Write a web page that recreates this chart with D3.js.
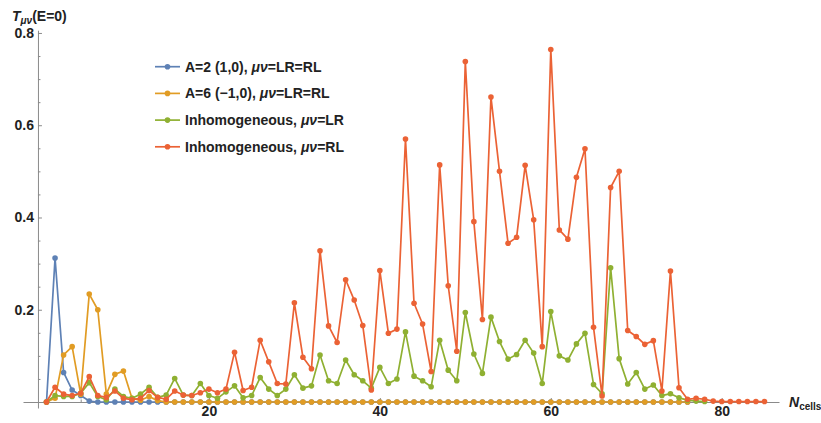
<!DOCTYPE html>
<html>
<head>
<meta charset="utf-8">
<script src="https://cdn.jsdelivr.net/npm/d3@7"></script>
<style>
  body { margin: 0; background: #fff; }
  svg { font-family: "Liberation Sans", Arial, sans-serif; }
</style>
</head>
<body>
<svg id="chart"></svg>
<script>
// values per series, index 0 is N = 1
const blueVals = [
  0, 0.312, 0.064, 0.026, 0.014, 0.002, 0, 0, 0, 0,
  0, 0, 0, 0, 0, 0, 0, 0, 0, 0,
  0, 0, 0, 0, 0, 0, 0, 0, 0, 0,
  0, 0, 0, 0, 0, 0, 0, 0, 0, 0,
  0, 0, 0, 0, 0, 0, 0, 0, 0, 0,
  0, 0, 0, 0, 0, 0, 0, 0, 0, 0,
  0, 0, 0, 0, 0, 0, 0, 0, 0, 0,
  0, 0, 0, 0, 0, 0,
];
const orangeVals = [
  0, 0.008, 0.102, 0.12, 0.017, 0.234, 0.2, 0.017, 0.06, 0.067,
  0.008, 0.004, 0.012, 0.003, 0, 0, 0, 0, 0, 0,
  0, 0, 0, 0, 0, 0, 0, 0, 0, 0,
  0, 0, 0, 0, 0, 0, 0, 0, 0, 0,
  0, 0, 0, 0, 0, 0, 0, 0, 0, 0,
  0, 0, 0, 0, 0, 0, 0, 0, 0, 0,
  0, 0, 0, 0, 0, 0, 0, 0, 0, 0,
  0, 0, 0, 0, 0, 0,
];
const greenVals = [
  0, 0.014, 0.012, 0.012, 0.019, 0.042, 0.012, 0.005, 0.028, 0.012,
  0.008, 0.017, 0.032, 0.01, 0.015, 0.051, 0.015, 0.014, 0.04, 0.014,
  0.008, 0.022, 0.035, 0.009, 0.014, 0.053, 0.028, 0.014, 0.028, 0.059,
  0.03, 0.035, 0.102, 0.046, 0.04, 0.091, 0.059, 0.046, 0.03, 0.075,
  0.04, 0.05, 0.152, 0.056, 0.046, 0.033, 0.134, 0.069, 0.046, 0.194,
  0.104, 0.062, 0.184, 0.131, 0.093, 0.103, 0.134, 0.106, 0.04, 0.196,
  0.1, 0.091, 0.126, 0.149, 0.038, 0.018, 0.291, 0.094, 0.039, 0.064,
  0.028, 0.037, 0.014, 0.018, 0.009, 0.004, 0.002, 0.001,
];
const redVals = [
  0, 0.032, 0.017, 0.014, 0.019, 0.055, 0.014, 0.01, 0.024, 0.008,
  0.005, 0.008, 0.025, 0.01, 0.006, 0.024, 0.015, 0.014, 0.02, 0.028,
  0.02, 0.028, 0.108, 0.025, 0.032, 0.134, 0.087, 0.04, 0.039, 0.215,
  0.097, 0.072, 0.328, 0.165, 0.129, 0.265, 0.221, 0.166, 0.026, 0.285,
  0.149, 0.158, 0.57, 0.214, 0.169, 0.066, 0.514, 0.252, 0.11, 0.738,
  0.391, 0.179, 0.661, 0.5, 0.344, 0.357, 0.513, 0.395, 0.12, 0.764,
  0.373, 0.353, 0.487, 0.549, 0.162, 0.013, 0.465, 0.5, 0.155, 0.142,
  0.125, 0.133, 0.024, 0.284, 0.031, 0.006, 0.008, 0.006, 0.002, 0.001,
  0.001, 0.001, 0.001, 0.001, 0.001,
];

// legend labels: [plain, italic, plain]
const seriesLabels = [
  ["A=2 (1,0), ", "μν", "=LR=RL"],
  ["A=6 (\u22121,0), ", "μν", "=LR=RL"],
  ["Inhomogeneous, ", "μν", "=LR"],
  ["Inhomogeneous, ", "μν", "=RL"],
];
const seriesColors = ["#5E81B5", "#E19C24", "#8FB032", "#EB6235"];

const xMajorTicks = [20, 40, 60, 80];
const xMinorTicks = [5, 10, 15, 25, 30, 35, 45, 50, 55, 65, 70, 75, 85];
const yMajorTicks = [0.2, 0.4, 0.6, 0.8];
const yMinorTicks = [0.05, 0.1, 0.15, 0.25, 0.3, 0.35, 0.45, 0.5, 0.55, 0.65, 0.7, 0.75];

class ListPlot {
  constructor(svg, series, width = 821, height = 423) {
    this.svg_id = svg;
    this.series = series;
    this.width = width;
    this.height = height;
  }

  initialize() {
    this.svg = d3.select(this.svg_id)
      .attr("width", this.width)
      .attr("height", this.height);

    // axes cross at the origin, a bit past the data on both ends
    const x = d3.scaleLinear().domain([-1.75, 86.7]).range([23, 779]);
    const y = d3.scaleLinear().domain([-0.013, 0.806]).range([408, 30.2]);
    const axisColor = "#8a8a8a";

    const xAxis = this.svg.append("g").attr("transform", `translate(0, ${y(0)})`);
    xAxis.call(d3.axisBottom(x).tickValues(xMajorTicks).tickSizeInner(-4).tickSizeOuter(0).tickPadding(4));
    const xMinor = this.svg.append("g").attr("transform", `translate(0, ${y(0)})`);
    xMinor.call(d3.axisBottom(x).tickValues(xMinorTicks).tickSizeInner(-2.5).tickSizeOuter(0).tickFormat(""));
    xMinor.select(".domain").remove();

    const yAxis = this.svg.append("g").attr("transform", `translate(${x(0)}, 0)`);
    yAxis.call(d3.axisLeft(y).tickValues(yMajorTicks).tickSizeInner(-4).tickSizeOuter(0).tickPadding(4).tickFormat(d3.format(".1f")));
    const yMinor = this.svg.append("g").attr("transform", `translate(${x(0)}, 0)`);
    yMinor.call(d3.axisLeft(y).tickValues(yMinorTicks).tickSizeInner(-2.5).tickSizeOuter(0).tickFormat(""));
    yMinor.select(".domain").remove();

    this.svg.selectAll(".domain, .tick line").attr("stroke", axisColor);
    this.svg.selectAll(".tick text")
      .attr("fill", "#222")
      .style("font-size", "14px")
      .style("font-weight", "bold");

    // data
    const line = d3.line()
      .x((d) => x(d.n))
      .y((d) => y(d.v));

    const groups = this.svg.append("g")
      .selectAll("g")
      .data(this.series)
      .join("g");

    groups.append("path")
      .attr("d", (s) => line(s.points))
      .attr("fill", "none")
      .attr("stroke", (s) => s.color)
      .attr("stroke-width", 1.7)
      .attr("stroke-linejoin", "round");

    groups.selectAll("circle")
      .data((s) => s.points.map((p) => ({ ...p, color: s.color })))
      .join("circle")
      .attr("cx", (d) => x(d.n))
      .attr("cy", (d) => y(d.v))
      .attr("r", 2.8)
      .attr("fill", (d) => d.color);

    // axis labels
    const yLabel = this.svg.append("text")
      .attr("x", 12)
      .attr("y", 21)
      .attr("fill", "#222")
      .style("font-size", "14px")
      .style("font-weight", "bold");
    yLabel.append("tspan").style("font-style", "italic").text("T");
    yLabel.append("tspan").style("font-style", "italic").style("font-size", "10px").attr("dy", 3).text("μν");
    yLabel.append("tspan").attr("dy", -3).text("(E=0)");

    const xLabel = this.svg.append("text")
      .attr("x", 789)
      .attr("y", 407)
      .attr("fill", "#222")
      .style("font-size", "14px")
      .style("font-weight", "bold");
    xLabel.append("tspan").style("font-style", "italic").text("N");
    xLabel.append("tspan").style("font-size", "10px").attr("dy", 3).text("cells");

    // legend
    const legend = this.svg.append("g")
      .selectAll("g")
      .data(this.series)
      .join("g")
      .attr("transform", (s, i) => `translate(155, ${66.7 + i * 26.7})`);
    legend.append("line")
      .attr("x1", 0).attr("x2", 25)
      .attr("stroke", (s) => s.color)
      .attr("stroke-width", 1.7);
    legend.append("circle")
      .attr("cx", 12.5)
      .attr("r", 2.8)
      .attr("fill", (s) => s.color);
    const label = legend.append("text")
      .attr("x", 30)
      .attr("dy", "0.35em")
      .attr("fill", "#222")
      .style("font-size", "14px")
      .style("font-weight", "bold");
    label.append("tspan").text((s) => s.label[0]);
    label.append("tspan").style("font-style", "italic").text((s) => s.label[1]);
    label.append("tspan").text((s) => s.label[2]);
  }
}

const allVals = [blueVals, orangeVals, greenVals, redVals];
const series = allVals.map((vals, i) => ({
  label: seriesLabels[i],
  color: seriesColors[i],
  points: vals.map((v, j) => ({ n: j + 1, v: v })),
}));

const plot = new ListPlot("#chart", series);
plot.initialize();
</script>
</body>
</html>
